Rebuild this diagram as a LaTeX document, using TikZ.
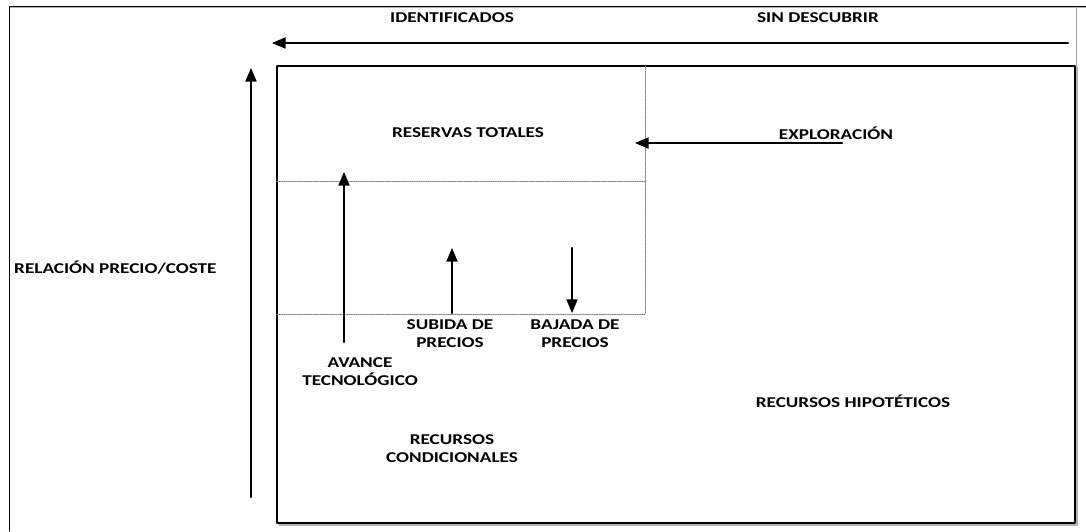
\documentclass[tikz,border=0pt]{standalone}
\usepackage{fontspec}
\setmainfont{Carlito}[FakeStretch=1.28]
\usetikzlibrary{arrows}
\begin{document}
\begin{tikzpicture}[x=1pt,y=-1pt,line cap=round,line join=round,>=triangle 45,
  every node/.style={font=\bfseries\fontsize{15}{18}\selectfont,align=center,inner sep=0pt}]
\useasboundingbox (0,0) rectangle (1086,531);
% outer frame
\draw[line width=1.2pt,gray!60] (10,7) -- (1086,7);
\draw[line width=1pt] (9,531) -- (9,6) -- (1086,6);
\draw[gray!70,line width=0.8pt] (1076,7) -- (1076,66);
% main box and its shadow
\draw[gray!60,line width=1.2pt] (279,525) -- (1077,525) -- (1077,67);
\draw[line width=1.2pt] (277,66) rectangle (1075,523);
% dotted block
\draw[gray,densely dotted,line width=0.8pt] (277,181) -- (645,181);
\draw[gray,densely dotted,line width=0.8pt] (277,314) -- (645,314) -- (645,66);
% coordinates
\coordinate (top-r) at (1068,43);
\coordinate (top-l) at (272,43);
\coordinate (axis-b) at (251,497);
\coordinate (axis-t) at (251,68);
\coordinate (tec-b) at (344,342);
\coordinate (tec-t) at (344,172);
\coordinate (sub-b) at (452,313);
\coordinate (sub-t) at (452,248);
\coordinate (baj-t) at (572,248);
\coordinate (baj-b) at (572,313);
\coordinate (exp-r) at (842,143);
\coordinate (exp-l) at (635,143);
% arrows
\draw [->,line width=2.2pt] (top-r) -- (top-l);
\draw [->,line width=2.2pt] (axis-b) -- (axis-t);
\draw [->,line width=2.2pt] (tec-b) -- (tec-t);
\draw [->,line width=2.2pt] (sub-b) -- (sub-t);
\draw [->,line width=2.2pt] (baj-t) -- (baj-b);
\draw [->,line width=2.2pt] (exp-r) -- (exp-l);
% labels
\node (ident) at (452,18) {IDENTIFICADOS};
\node (sindesc) at (818,18) {SIN DESCUBRIR};
\node (reservas) at (468,133) {RESERVAS TOTALES};
\node (explor) at (836,133) {EXPLORACIÓN};
\node[anchor=west] (relacion) at (14,268) {RELACIÓN PRECIO/COSTE};
\node (subida) at (450,334) {SUBIDA DE\\PRECIOS};
\node (bajada) at (575,334) {BAJADA DE\\PRECIOS};
\node (avance) at (360,372) {AVANCE\\TECNOLÓGICO};
\node (condic) at (452,449) {RECURSOS\\CONDICIONALES};
\node (hipot) at (853,401) {RECURSOS HIPOTÉTICOS};
\end{tikzpicture}
\end{document}
